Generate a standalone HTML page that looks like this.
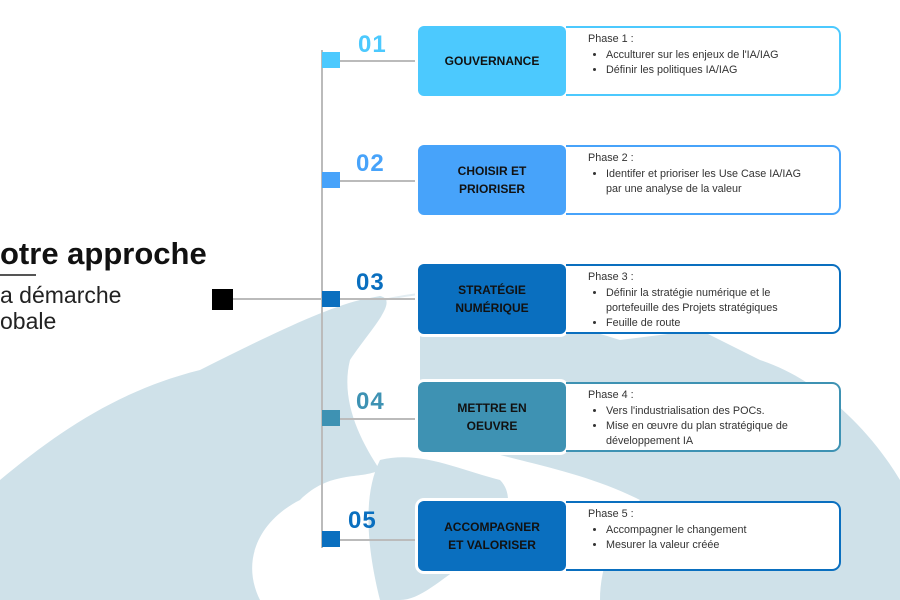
<!DOCTYPE html>
<html><head><meta charset="utf-8"><style>
html,body{margin:0;width:900px;height:600px;overflow:hidden}
body{background:#fff;font-family:"Liberation Sans",sans-serif;position:relative}
.a{position:absolute}
.num{position:absolute;font-weight:bold;font-size:24px;letter-spacing:1px}
.sq{position:absolute;width:18px;height:16px;left:322px}
.hl{position:absolute;left:340px;width:78px;height:1.5px;background:#bbb}
.cb{position:absolute;left:418px;width:148px;height:70px;border-radius:6px;box-shadow:0 0 0 3px #fff;display:flex;align-items:center;justify-content:center;text-align:center;font-weight:bold;font-size:12px;line-height:18px;color:#111}
.pb{position:absolute;left:566px;width:275px;height:70px;border:2px solid;border-left:none;border-radius:0 9px 9px 0;background:#fff;font-size:10.8px;color:#333;padding:4px 36px 0 22px;box-sizing:border-box;line-height:15px}
.pb ul{margin:1px 0 0 0;padding-left:18px}
</style></head><body>
<svg class="a" style="left:0;top:0" width="900" height="600">
<circle cx="480" cy="760" r="470" fill="none" stroke="#e3edf2" stroke-width="2"/>
<g fill="#cfe1e9">
<path d="M0 480 C60 430 120 390 200 370 C260 340 320 310 360 300 L380 296 C400 300 370 330 350 360 C340 400 360 440 380 470 C360 480 330 470 300 500 C260 520 240 560 260 600 L0 600 Z"/>
<path d="M420 330 C480 310 560 320 620 340 L700 330 L760 360 C820 380 870 430 900 480 L900 600 L600 600 C600 560 620 520 640 500 C600 480 560 470 520 460 C480 450 440 440 420 420 Z"/>
<path d="M380 460 C420 450 460 470 500 480 C520 500 500 540 470 560 C440 580 420 600 400 600 L380 600 C370 560 360 500 380 460 Z"/>
<path d="M180 560 C210 540 240 560 250 600 L170 600 Z"/>
</g>
</svg>
<div class="a" style="left:0;top:236px;font-size:31px;font-weight:bold;color:#111">otre approche</div>
<div class="a" style="left:0;top:274px;width:36px;height:1.5px;background:#555"></div>
<div class="a" style="left:0;top:282px;font-size:23px;color:#222;line-height:26px">a démarche<br>obale</div>
<div class="a" style="left:212px;top:289px;width:21px;height:21px;background:#000"></div>
<div class="a" style="left:233px;top:298px;width:89px;height:1.5px;background:#bbb"></div>
<div class="a" style="left:321px;top:50px;width:1.5px;height:498px;background:#bbb"></div>

<div class="sq" style="top:52px;background:#4cc9fe"></div><div class="hl" style="top:60px"></div>
<div class="num" style="left:358px;top:31px;color:#4cc9fe">01</div>
<div class="cb" style="top:26px;background:#4cc9fe">GOUVERNANCE</div>
<div class="pb" style="top:26px;border-color:#4cc9fe">Phase 1 :<ul><li>Acculturer sur les enjeux de l'IA/IAG</li><li>Définir les politiques IA/IAG</li></ul></div>

<div class="sq" style="top:172px;background:#47a3fa"></div><div class="hl" style="top:180px"></div>
<div class="num" style="left:356px;top:150px;color:#47a3fa">02</div>
<div class="cb" style="top:145px;background:#47a3fa">CHOISIR ET<br>PRIORISER</div>
<div class="pb" style="top:145px;border-color:#47a3fa">Phase 2 :<ul><li>Identifer et prioriser les Use Case IA/IAG par une analyse de la valeur</li></ul></div>

<div class="sq" style="top:291px;background:#0a6fbf"></div><div class="hl" style="top:298px"></div>
<div class="num" style="left:356px;top:269px;color:#0a6fbf">03</div>
<div class="cb" style="top:264px;background:#0a6fbf">STRATÉGIE<br>NUMÉRIQUE</div>
<div class="pb" style="top:264px;border-color:#0a6fbf">Phase 3 :<ul><li>Définir la stratégie numérique et le portefeuille des Projets stratégiques</li><li>Feuille de route</li></ul></div>

<div class="sq" style="top:410px;background:#3e92b3"></div><div class="hl" style="top:418px"></div>
<div class="num" style="left:356px;top:388px;color:#3e92b3">04</div>
<div class="cb" style="top:382px;background:#3e92b3">METTRE EN<br>OEUVRE</div>
<div class="pb" style="top:382px;border-color:#3e92b3">Phase 4 :<ul><li>Vers l'industrialisation des POCs.</li><li>Mise en œuvre du plan stratégique de développement IA</li></ul></div>

<div class="sq" style="top:531px;background:#0a6fbf"></div><div class="hl" style="top:539px"></div>
<div class="num" style="left:348px;top:507px;color:#0a6fbf">05</div>
<div class="cb" style="top:501px;background:#0a6fbf">ACCOMPAGNER<br>ET VALORISER</div>
<div class="pb" style="top:501px;border-color:#0a6fbf">Phase 5 :<ul><li>Accompagner le changement</li><li>Mesurer la valeur créée</li></ul></div>
</body></html>
